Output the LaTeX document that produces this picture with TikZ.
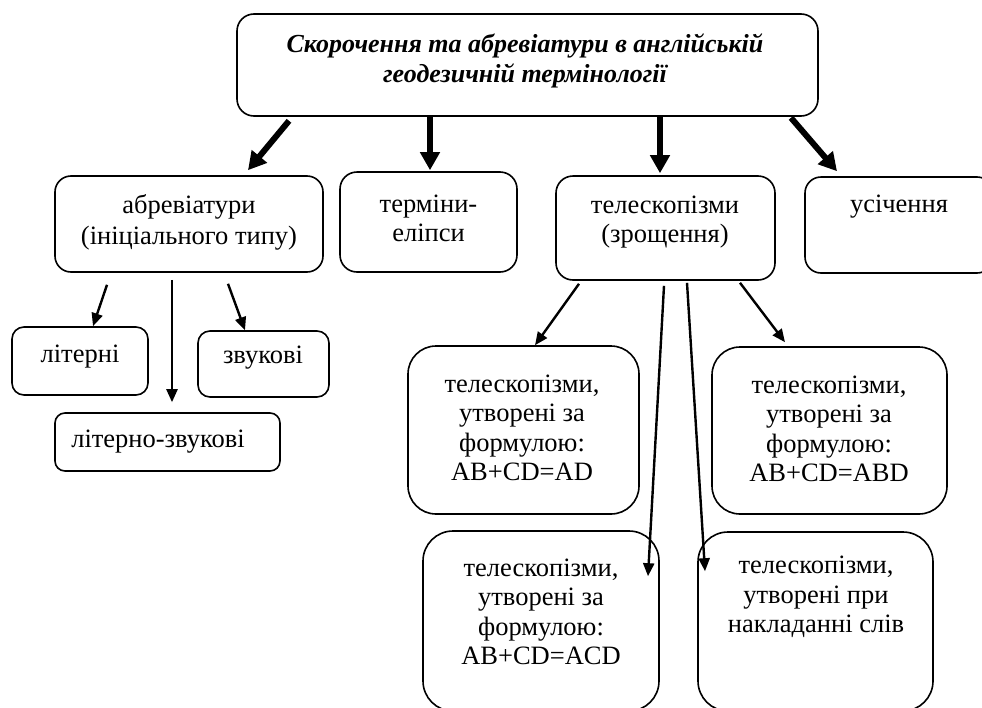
\documentclass[tikz,border=0pt]{standalone}
\usepackage{fontspec}
\setmainfont{Liberation Serif}
\usetikzlibrary{arrows.meta,calc}

\begin{document}
\begin{tikzpicture}[x=1pt,y=-1pt,
  frame/.style={draw,line width=1.6pt,inner sep=0pt},
  lbl/.style={align=center,inner sep=0pt,font=\fontsize{26.5}{29.5}\selectfont},
  bigarr/.style={line width=6pt,-{Triangle[length=18pt,width=19pt]}},
  thinarr/.style={line width=2.4pt,-{Triangle[length=13pt,width=11pt]}}]
\useasboundingbox (0,0) rectangle (982,707);
\clip (0,0) rectangle (982,707);

% boxes
\node[frame,rounded corners=17pt,minimum width=581pt,minimum height=102pt] (top) at (527.5,65) {};
\node[frame,rounded corners=16pt,minimum width=268pt,minimum height=96pt] (abbr) at (189,224) {};
\node[frame,rounded corners=17pt,minimum width=177pt,minimum height=100pt] (ellip) at (428.5,222) {};
\node[frame,rounded corners=17pt,minimum width=219pt,minimum height=104pt] (tele) at (665.5,228) {};
\node[frame,rounded corners=16pt,minimum width=188pt,minimum height=96pt] (trunc) at (899,225) {};
\node[frame,rounded corners=12pt,minimum width=136pt,minimum height=68pt] (lit) at (80,361) {};
\node[frame,rounded corners=12pt,minimum width=131pt,minimum height=66pt] (snd) at (263.5,364) {};
\node[frame,rounded corners=10pt,minimum width=225pt,minimum height=58pt] (litsnd) at (167.5,442) {};
\node[frame,rounded corners=28pt,minimum width=231pt,minimum height=168pt] (ad) at (523.5,430) {};
\node[frame,rounded corners=28pt,minimum width=235pt,minimum height=167pt] (abd) at (829.5,430.5) {};
\node[frame,rounded corners=30pt,minimum width=236pt,minimum height=180pt] (acd) at (541,621) {};
\node[frame,rounded corners=30pt,minimum width=235pt,minimum height=179pt] (ovl) at (815.5,621.5) {};

% texts
\node[lbl,font=\fontsize{26}{30}\selectfont\bfseries\itshape] (top-t) at (525,61) {Скорочення та абревіатури в англійській\\геодезичній термінології};
\node[lbl,font=\fontsize{26.5}{31}\selectfont] (abbr-t) at (189,222.5) {абревіатури\\(ініціального типу)};
\node[lbl] (ellip-t) at (428.5,218.5) {терміни-\\еліпси};
\node[lbl] (tele-t) at (665,222) {телескопізми\\(зрощення)};
\node[lbl] (trunc-t) at (899,207) {усічення};
\node[lbl] (lit-t) at (80,357) {літерні};
\node[lbl] (snd-t) at (263,358) {звукові};
\node[lbl] (litsnd-t) at (158,442) {літерно-звукові};
\node[lbl] (ad-t) at (522,428) {телескопізми,\\утворені за\\формулою:\\AB+CD=AD};
\node[lbl] (abd-t) at (829,429) {телескопізми,\\утворені за\\формулою:\\AB+CD=ABD};
\node[lbl] (acd-t) at (541,612) {телескопізми,\\утворені за\\формулою:\\AB+CD=ACD};
\node[lbl] (ovl-t) at (816,597) {телескопізми,\\утворені при\\накладанні слів};

% arrows from the title
\draw[bigarr] ($(top.south)+(-238.5,4)$) -- ($(abbr.north)+(59,-5)$);
\draw[bigarr] ($(top.south)+(-97.5,0)$) -- ($(ellip.north)+(1.5,-1)$);
\draw[bigarr] ($(top.south)+(132.5,0)$) -- ($(tele.north)+(-5.5,-2)$);
\draw[bigarr] ($(top.south)+(263.5,1)$) -- ($(trunc.north)+(-62,-5)$);

% abbreviations
\draw[thinarr] ($(abbr.south)+(-82,12)$) -- ($(lit.north)+(13,0)$);
\draw[thinarr] ($(abbr.south)+(-17,7)$) -- ($(litsnd.north)+(4.5,-10)$);
\draw[thinarr] ($(abbr.south)+(39,11)$) -- ($(snd.north)+(-18.5,0)$);

% telescopisms
\draw[thinarr] ($(tele.south)+(-86.5,3)$) -- ($(ad.north)+(11.5,0)$);
\draw[thinarr] ($(tele.south)+(-1.5,5)$) -- ($(acd.north)+(107,46)$);
\draw[thinarr] ($(tele.south)+(21.5,2)$) -- ($(ovl.north)+(-110.5,40)$);
\draw[thinarr] ($(tele.south)+(74.5,2)$) -- ($(abd.north)+(-44.5,-4)$);
\end{tikzpicture}
\end{document}
